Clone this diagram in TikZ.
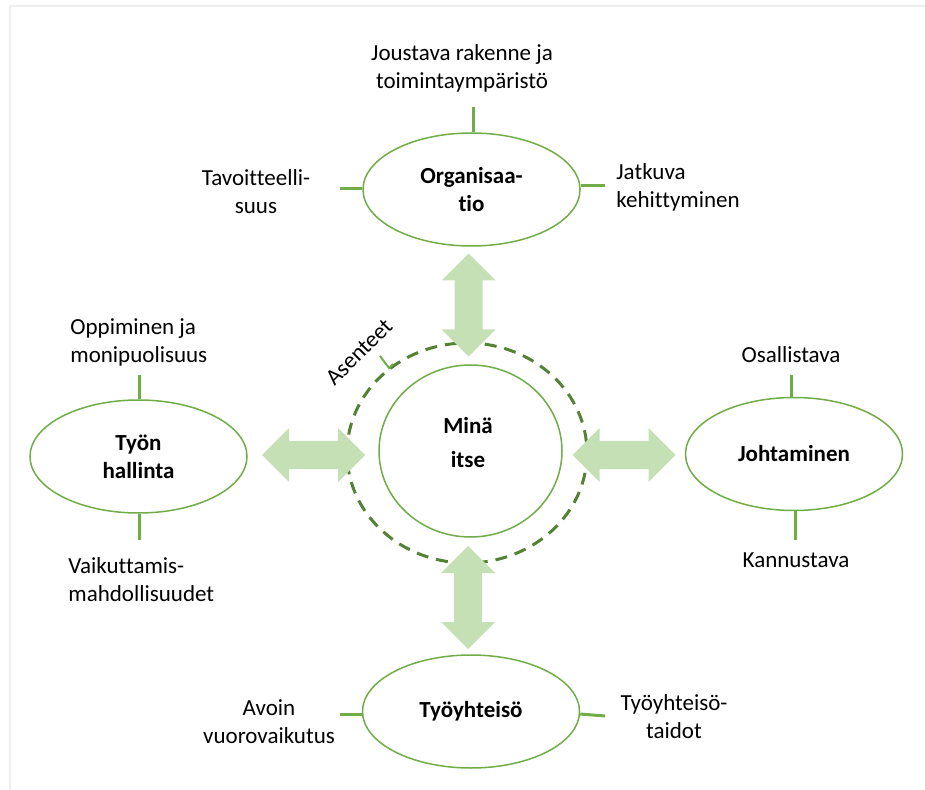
\documentclass[tikz,border=0pt]{standalone}
\usepackage{fontspec}
\setmainfont{Carlito}[Ligatures=NoCommon]
\usetikzlibrary{shapes.geometric,calc}
\definecolor{ringgreen}{HTML}{70AD47}
\definecolor{dashgreen}{HTML}{548235}
\definecolor{arrowfill}{HTML}{C5E0B4}
\definecolor{framegray}{HTML}{EEEEEE}
\newcommand\bodysize{\fontsize{11.5pt}{14pt}\selectfont}
\tikzset{
  bubble/.style={ellipse, draw=ringgreen, line width=0.75pt, fill=white,
    inner sep=0pt, minimum width=108.5pt, minimum height=56.5pt,
    font=\bodysize\bfseries, align=center},
  selfring/.style={ellipse, draw=ringgreen, line width=0.75pt, fill=white,
    inner sep=0pt, minimum width=91.5pt, minimum height=86pt},
  txt/.style={font=\bodysize, inner sep=0pt, align=center},
  txtleft/.style={font=\bodysize, inner sep=0pt, align=left, anchor=west},
  link/.style={draw=ringgreen, line width=1.5pt},
  attitude/.style={draw=dashgreen, line width=1.5pt, dash pattern=on 6pt off 4pt},
  pointer/.style={draw=ringgreen, line width=1pt},
  harrow/.pic={\fill[arrowfill] (-51.5,0) -- (-24.5,27) -- (-24.5,14) -- (24.5,14)
    -- (24.5,27) -- (51.5,0) -- (24.5,-27) -- (24.5,-14) -- (-24.5,-14)
    -- (-24.5,-27) -- cycle;},
}
\begin{document}
\begin{tikzpicture}[x=0.5pt, y=-0.5pt]
  \useasboundingbox (0,0) rectangle (925,790);
  % page frame
  \draw[framegray, line width=1pt] (925,6.5) -- (9.5,6.5) -- (9.5,790);

  % attitudes ring around the self
  \draw[attitude] (467,453) ellipse [x radius=120, y radius=110];
  \node[selfring] (me) at (470.5,451) {};
  \node[txt, font=\bodysize\bfseries] (metext) at (468,443)
    {Minä\\[3pt]itse};
  \node[txt, rotate=45] (asenteet) at (359,352) {Asenteet};
  \draw[pointer] (380,356) -- (389,368) -- (393,364);

  % double arrows between the self and the four areas
  \pic at (313.5,455) {harrow};
  \pic at (624,455) {harrow};
  \pic[rotate=90] at (468.5,305) {harrow};
  \pic[rotate=90] at (468,597.5) {harrow};

  % the four areas
  \node[bubble] (org) at (471.5,189.5) {Organisaa-\\tio};
  \node[bubble] (tyon) at (138.5,456.5) {Työn\\hallinta};
  \node[bubble] (johto) at (794,454) {Johtaminen};
  \node[bubble] (yhteiso) at (471,711.5) {Työyhteisö};

  % Organisaatio
  \coordinate (orgT) at (473,107);
  \coordinate (orgL) at (340,189);
  \coordinate (orgR) at (605,186);
  \draw[link] (orgT) -- (orgT |- org.north);
  \draw[link] (orgL) -- (orgL -| org.west);
  \draw[link] (orgR -| org.east) -- (orgR);
  \node[txt] (joustava) at (462,68) {Joustava rakenne ja\\toimintaympäristö};
  \node[txt] (tavoite) at (256,192) {Tavoitteelli-\\suus};
  \node[txtleft] (jatkuva) at (616,187) {Jatkuva\\kehittyminen};

  % Työn hallinta
  \coordinate (tyonT) at (139,375);
  \coordinate (tyonB) at (139,540);
  \draw[link] (tyonT) -- (tyonT |- tyon.north);
  \draw[link] (tyonB |- tyon.south) -- (tyonB);
  \node[txtleft] (oppiminen) at (70,342) {Oppiminen ja\\monipuolisuus};
  \node[txtleft] (vaikutus) at (68,580) {Vaikuttamis-\\mahdollisuudet};

  % Johtaminen
  \coordinate (johtoT) at (791,375);
  \coordinate (johtoB) at (795,540);
  \draw[link] (johtoT) -- (johtoT |- johto.north);
  \draw[link] (johtoB |- johto.south) -- (johtoB);
  \node[txt] (osallistava) at (791,355) {Osallistava};
  \node[txt] (kannustava) at (796,560) {Kannustava};

  % Työyhteisö
  \coordinate (yhtL) at (340,714);
  \coordinate (yhtR) at (605,716);
  \draw[link] (yhtL) -- (yhtL -| yhteiso.west);
  \draw[link] ($(yhteiso.east)+(0,2.5)$) -- (yhtR);
  \node[txt] (avoin) at (269,722) {Avoin\\vuorovaikutus};
  \node[txt] (taidot) at (674,717) {Työyhteisö-\\taidot};
\end{tikzpicture}
\end{document}
